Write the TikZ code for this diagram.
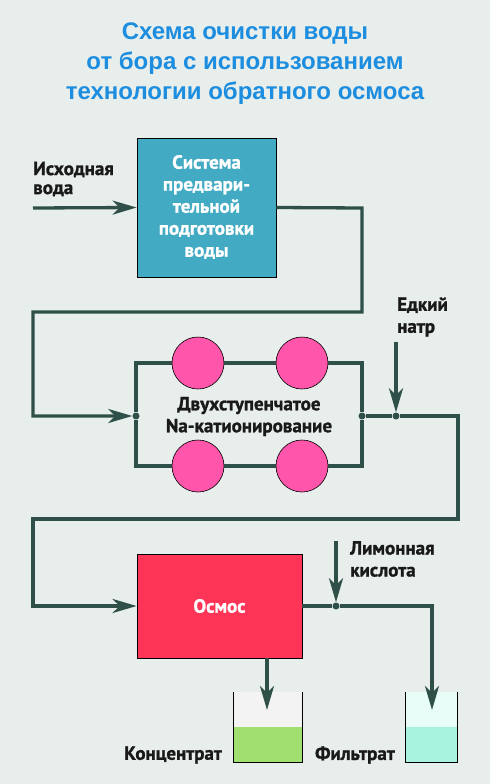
\documentclass[tikz,border=0pt]{standalone}
\usepackage{fontspec}
\setmainfont{Liberation Sans}
\newfontfamily\condf[FakeBold=1.2]{PT Sans}
\usetikzlibrary{arrows.meta}
\definecolor{bg}{HTML}{E8EEEC}
\definecolor{ttl}{HTML}{1C8DDF}
\definecolor{ln}{HTML}{2E5048}
\definecolor{tealbox}{HTML}{42AAC2}
\definecolor{pnk}{HTML}{FF55AA}
\definecolor{osm}{HTML}{FE3556}
\definecolor{cup}{HTML}{F3F3F3}
\definecolor{cgreen}{HTML}{A0E070}
\definecolor{fup}{HTML}{E8FCF8}
\definecolor{fmint}{HTML}{A8F2E0}
\begin{document}
\begin{tikzpicture}[x=1pt,y=-1pt,
  pipe/.style={draw=ln,line width=3.3pt},
  arr/.style={pipe,-{Stealth[length=24pt,width=14pt,inset=7pt]}},
  box/.style={draw=black,line width=0.8pt,inner sep=0pt},
  circ/.style={circle,draw=black,line width=0.6pt,fill=pnk,minimum size=52pt,inner sep=0pt},
  dot/.style={circle,fill=ln,minimum size=7pt,inner sep=0pt},
  lbl/.style={font=\condf\bfseries\fontsize{19}{22}\selectfont,text=black!90,align=left,inner sep=0pt},
  wlbl/.style={font=\condf\bfseries\fontsize{19}{22}\selectfont,text=white,align=center,inner sep=0pt},
  beaker/.style={draw=black,line width=0.8pt}
]
\fill[bg] (0,0) rectangle (490,784);
\useasboundingbox (0,0) rectangle (490,784);

% title
\node[font=\bfseries\fontsize{24}{30}\selectfont,text=ttl,align=center] (title) at (245,64)
  {Схема очистки воды\\от бора с использованием\\технологии обратного осмоса};

% pre-treatment
\node[box,fill=tealbox,minimum width=139pt,minimum height=139pt] (pre) at (206.5,207.5) {};
\node[wlbl] (pretxt) at (206.5,207) {Система\\предвари-\\тельной\\подготовки\\воды};
\node[lbl,anchor=west,font=\condf\bfseries\fontsize{19}{19}\selectfont] (intxt) at (33,179) {Исходная\\вода};
\coordinate (in) at (33,208);
\draw[arr] (in) -- (pre.west);

% Na cation block
\node[dot] (j1) at (136,416) {};
\node[dot] (j2) at (362,416) {};
\node[dot] (j3) at (396,416) {};
\node[circ] (c1) at (198,363) {};
\node[circ] (c2) at (302,363) {};
\node[circ] (c3) at (198,466) {};
\node[circ] (c4) at (302,466) {};
\draw[pipe] (j1) |- (c1.west);
\draw[pipe] (c1.east) -- (c2.west);
\draw[pipe] (c2.east) -| (j2);
\draw[pipe] (j1) |- (c3.west);
\draw[pipe] (c3.east) -- (c4.west);
\draw[pipe] (c4.east) -| (j2);
\node[lbl,align=center] (natxt) at (249,416.5) {Двухступенчатое\\Na-катионирование};

\draw[arr] (pre.east) -- (362,208) -- (362,312) -- (33,312) -- (33,416) -- (j1);

% caustic soda
\node[lbl,anchor=west] (naoh) at (397,317) {Едкий\\натр};
\coordinate (naohin) at (396,342);
\draw[arr] (naohin) -- (j3);

% osmosis
\node[box,fill=osm,minimum width=165pt,minimum height=104pt] (osm) at (219.5,606) {};
\node[wlbl] (osmtxt) at (219.5,606) {Осмос};
\draw[arr] (j2) -- (j3) -- (458,416) -- (458,519) -- (33,519) -- (33,606) -- (osm.west);

\node[dot] (j4) at (336,606) {};
\coordinate (citin) at (336,541);
\draw[arr] (citin) -- (j4);
\node[lbl,anchor=west] (cit) at (350,559) {Лимонная\\кислота};

% beakers
\fill[cup] (233,692) rectangle (302,727);
\fill[cgreen] (233,727) rectangle (302,762);
\draw[beaker] (233,692) -- (233,762) -- (302,762) -- (302,692);
\fill[fup] (405,692) rectangle (457,727);
\fill[fmint] (405,727) rectangle (457,762);
\draw[beaker] (405,692) -- (405,762) -- (457,762) -- (457,692);

\coordinate (ctip) at (267,710);
\coordinate (ftip) at (432,710);
\draw[arr] (osm.south -| ctip) -- (ctip);
\draw[pipe] (osm.east) -- (j4);
\draw[arr] (j4) -| (ftip);

\node[lbl,anchor=east] (conc) at (222,755) {Концентрат};
\node[lbl,anchor=west] (filt) at (315,755) {Фильтрат};
\end{tikzpicture}
\end{document}
